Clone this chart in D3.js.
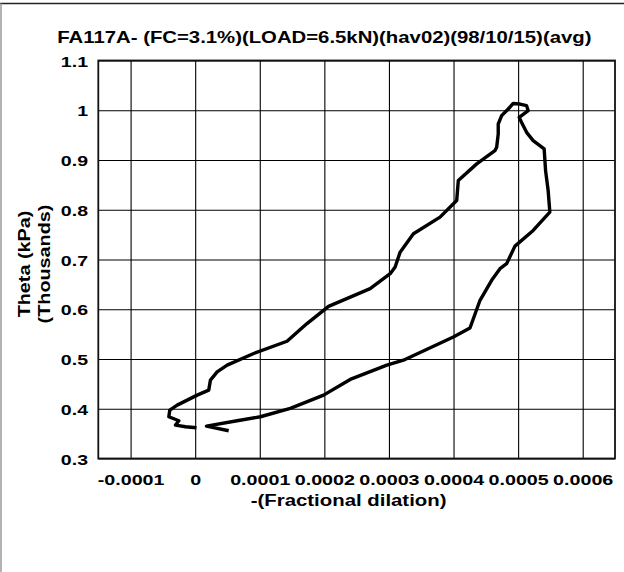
<!DOCTYPE html>
<html><head><meta charset="utf-8">
<script src="https://cdn.jsdelivr.net/npm/d3@7"></script>
<style>html,body{margin:0;padding:0;background:#fff;} svg{display:block;}</style>
</head><body>
<script>
const titleText = "FA117A- (FC=3.1%)(LOAD=6.5kN)(hav02)(98/10/15)(avg)";
const xAxisTitle = "-(Fractional dilation)";
const yAxisTitle = ["Theta (kPa)", "(Thousands)"];
const xTicks = [-0.0001, 0, 0.0001, 0.0002, 0.0003, 0.0004, 0.0005, 0.0006];
const xTickLabels = ["-0.0001", "0", "0.0001", "0.0002", "0.0003", "0.0004", "0.0005", "0.0006"];
const yTicks = [0.3, 0.4, 0.5, 0.6, 0.7, 0.8, 0.9, 1.0, 1.1];
const yTickLabels = ["0.3", "0.4", "0.5", "0.6", "0.7", "0.8", "0.9", "1", "1.1"];

// -(Fractional dilation)
const dilation = [
  5.19e-5, 1.75e-5, 6.49e-5, 1.009e-4, 1.473e-4, 1.988e-4, 2.400e-4, 2.968e-4, 3.224e-4,
  3.997e-4, 4.255e-4, 4.410e-4, 4.590e-4, 4.719e-4, 4.822e-4, 4.951e-4, 5.233e-4, 5.491e-4,
  5.465e-4, 5.425e-4, 5.403e-4, 5.233e-4, 5.131e-4, 5.054e-4, 5.017e-4, 5.156e-4, 5.131e-4,
  5.028e-4, 4.924e-4, 4.847e-4, 4.745e-4, 4.692e-4, 4.692e-4, 4.668e-4, 4.641e-4, 4.359e-4,
  4.074e-4, 4.049e-4, 3.791e-4, 3.379e-4, 3.173e-4, 3.096e-4, 3.019e-4, 2.709e-4, 2.065e-4,
  1.731e-4, 1.422e-4, 0.906e-4, 0.495e-4, 0.340e-4, 0.236e-4, 0.210e-4, 0.031e-4, -0.278e-4,
  -0.393e-4, -0.408e-4, -0.253e-4, -0.304e-4, -0.150e-4, 0.020e-4
];
// Theta (kPa, thousands)
const theta = [
  0.3558, 0.3652, 0.3758, 0.3839, 0.4007, 0.4274, 0.4589, 0.4876, 0.4976,
  0.5443, 0.5624, 0.6180, 0.6581, 0.6815, 0.6916, 0.7269, 0.7584, 0.7951,
  0.8386, 0.8787, 0.9223, 0.9389, 0.9556, 0.9756, 0.9857, 0.9991, 1.0091,
  1.0125, 1.0137, 1.0025, 0.9891, 0.9724, 0.9524, 0.9255, 0.9189, 0.8922,
  0.8587, 0.8186, 0.7851, 0.7518, 0.7148, 0.6848, 0.6715, 0.6414, 0.6059,
  0.5712, 0.5357, 0.5110, 0.4876, 0.4741, 0.4575, 0.4374, 0.4274, 0.4073,
  0.3973, 0.3839, 0.3758, 0.3672, 0.3638, 0.3618
];

const W = 624, H = 572;
const P = {left: 98.3, top: 60.5, right: 615, bottom: 458.5};
const FONT = "'Liberation Sans', Arial, Helvetica, sans-serif";

const svg = d3.select("body").append("svg").attr("width", W).attr("height", H)
  .style("font-family", FONT).style("font-weight", "bold");
svg.append("rect").attr("width", W).attr("height", H).attr("fill", "#fff");

// outer frame pieces
svg.append("line").attr("x1", 0).attr("x2", W).attr("y1", 3.5).attr("y2", 3.5)
  .attr("stroke", "#222").attr("stroke-width", 1.3);
svg.append("line").attr("x1", 1).attr("x2", 1).attr("y1", 3.5).attr("y2", H)
  .attr("stroke", "#a0a0a0").attr("stroke-width", 1.6);

const x = d3.scaleLinear().domain([-0.00015, 0.00065]).range([P.left, P.right]);
const y = d3.scaleLinear().domain([0.3, 1.1]).range([P.bottom, P.top]);

// gridlines
const gx = svg.append("g").attr("transform", `translate(0,${P.bottom})`)
  .call(d3.axisBottom(x).tickValues(xTicks).tickSize(-(P.bottom - P.top)).tickFormat(""));
gx.select(".domain").remove();
gx.selectAll("line").attr("stroke", "#000").attr("stroke-width", 1.1);
const gy = svg.append("g").attr("transform", `translate(${P.left},0)`)
  .call(d3.axisLeft(y).tickValues(yTicks).tickSize(-(P.right - P.left)).tickFormat(""));
gy.select(".domain").remove();
gy.selectAll("line").attr("stroke", "#000").attr("stroke-width", 1.1);

// plot frame
svg.append("rect").attr("x", P.left).attr("y", P.top)
  .attr("width", P.right - P.left).attr("height", P.bottom - P.top)
  .attr("fill", "none").attr("stroke", "#111").attr("stroke-width", 1.8);

// axes labels (glyphs horizontally widened as in the reference)
const ax = svg.append("g").attr("transform", `translate(0,${P.bottom})`)
  .call(d3.axisBottom(x).tickValues(xTicks).tickSize(0)
    .tickFormat((d, i) => xTickLabels[i]));
ax.select(".domain").remove();
ax.selectAll("text").attr("x", 0).attr("y", 27).attr("dy", 0).attr("fill", "#000")
  .attr("transform", "scale(1.27,1)")
  .style("font-size", "15.5px").style("font-family", FONT).style("font-weight", "bold");

const ay = svg.append("g").attr("transform", `translate(${P.left},0)`)
  .call(d3.axisLeft(y).tickValues(yTicks).tickSize(0)
    .tickFormat((d, i) => yTickLabels[i]));
ay.select(".domain").remove();
ay.selectAll("text").attr("x", 0).attr("dy", "0.36em").attr("fill", "#000")
  .attr("transform", "translate(-10.3,0) scale(1.26,1)")
  .style("font-size", "15.5px").style("font-family", FONT).style("font-weight", "bold");

// data line
const line = d3.line().x((d, i) => x(dilation[i])).y((d, i) => y(theta[i]));
svg.append("path").datum(theta).attr("d", line)
  .attr("fill", "none").attr("stroke", "#000").attr("stroke-width", 3.4)
  .attr("stroke-linejoin", "round").attr("stroke-linecap", "butt");

// title
svg.append("text").attr("transform", "translate(57.3,43.3) scale(1.225,1)")
  .style("font-size", "16.6px").attr("fill", "#000").text(titleText);

// x axis title
svg.append("text").attr("transform", "translate(348.6,505.5) scale(1.235,1)")
  .attr("text-anchor", "middle")
  .style("font-size", "16.5px").attr("fill", "#000").text(xAxisTitle);

// y axis title
const yt = svg.append("g").attr("transform", "translate(0,264) rotate(-90)");
yAxisTitle.forEach((s, i) => {
  yt.append("text").attr("transform", `translate(0,${29.5 + i * 20}) scale(1.2,1)`)
    .attr("text-anchor", "middle").style("font-size", "16.5px").attr("fill", "#000").text(s);
});
</script>
</body></html>
